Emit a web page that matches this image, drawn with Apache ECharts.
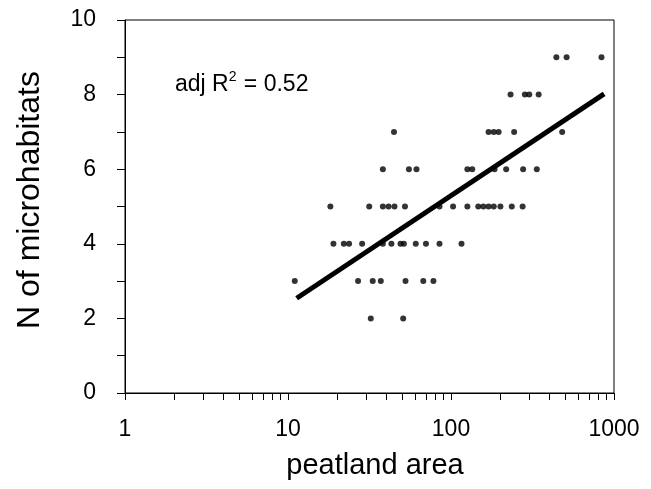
<!DOCTYPE html>
<html>
<head>
<meta charset="utf-8">
<script src="https://cdn.jsdelivr.net/npm/echarts@6/dist/echarts.min.js"></script>
<style>
html,body{margin:0;padding:0;background:#fff;}
#chart{width:651px;height:489px;}
</style>
</head>
<body>
<div id="chart"></div>
<script>
// peatland area (x) for each point, grouped by N of microhabitats (y)
var area9 = [443, 512, 838];
var area8 = [232, 284, 302, 345];
var area7 = [44.7, 170, 183, 196, 244, 481];
var area6 = [38.2, 55.2, 61.4, 126, 135, 185, 218, 277, 336];
var area5 = [18.2, 31.5, 38.2, 41.4, 45.0, 52.2, 85, 103, 126, 147, 158, 170, 183, 201, 236, 275];
var area4 = [19.0, 22.0, 23.7, 28.5, 38.2, 43.1, 49.0, 51.4, 60.8, 70.2, 85, 116];
var area3 = [11.0, 26.9, 33.1, 37.1, 52.6, 67.6, 78];
var area2 = [32.2, 50.9];
var levels = [9, 8, 7, 6, 5, 4, 3, 2];
var groups = [area9, area8, area7, area6, area5, area4, area3, area2];

// regression line endpoints
var fitX = [11.3, 870];
var fitY = [2.54, 8.02];

// ticks and labels
var xTickValues = [1,2,3,4,5,6,7,8,9,10,20,30,40,50,60,70,80,90,100,200,300,400,500,600,700,800,900,1000];
var xLabelValues = [1, 10, 100, 1000];
var yTickValues = [0,1,2,3,4,5,6,7,8,9,10];
var yLabelValues = [0, 2, 4, 6, 8, 10];

var points = [];
groups.forEach(function (g, i) {
  g.forEach(function (x) { points.push([x, levels[i]]); });
});

var font = 'Liberation Sans, Arial, Helvetica, sans-serif';
var chart = echarts.init(document.getElementById('chart'), null, {renderer: 'canvas'});
chart.setOption({
  animation: false,
  backgroundColor: '#fff',
  grid: {left: 125, right: 37, top: 20, bottom: 96, show: true, borderColor: '#000', borderWidth: 1, backgroundColor: 'transparent'},
  xAxis: {
    type: 'log', logBase: 10, min: 1, max: 1000,
    axisLine: {show: true, lineStyle: {color: '#000', width: 1}},
    axisTick: {show: true, inside: false, length: 7, lineStyle: {color: '#000'}, customValues: xTickValues},
    axisLabel: {show: true, color: '#000', fontSize: 23, fontFamily: font, margin: 25, customValues: xLabelValues,
      formatter: function (v) { return String(Math.round(v)); }},
    splitLine: {show: false}, minorTick: {show: false}
  },
  yAxis: {
    type: 'value', min: 0, max: 10, interval: 1,
    axisLine: {show: true, lineStyle: {color: '#000', width: 1}},
    axisTick: {show: true, inside: false, length: 8, lineStyle: {color: '#000'}, customValues: yTickValues},
    axisLabel: {show: true, color: '#000', fontSize: 23, fontFamily: font, margin: 29, customValues: yLabelValues},
    splitLine: {show: false}
  },
  series: [
    {
      type: 'scatter', data: points, symbol: 'circle', symbolSize: 6,
      itemStyle: {color: '#000'}, z: 3
    },
    {
      type: 'line', data: [[fitX[0], fitY[0]], [fitX[1], fitY[1]]],
      showSymbol: false, symbol: 'none', lineStyle: {color: '#000', width: 5}, z: 2
    }
  ],
  graphic: [
    {type: 'text', x: 375, y: 466, style: {text: 'peatland area', font: '29px ' + font, fill: '#000', align: 'center', verticalAlign: 'middle'}},
    {type: 'text', x: 30, y: 200, rotation: Math.PI / 2, style: {text: 'N of microhabitats', font: '32px ' + font, fill: '#000', align: 'center', verticalAlign: 'middle'}},
    {type: 'text', x: 175, y: 83, style: {
      text: '{t|adj R}{s|2}{t| = 0.52}', verticalAlign: 'middle', fill: '#000',
      rich: {
        t: {fontSize: 23, fontFamily: font, fill: '#000', verticalAlign: 'bottom', lineHeight: 26},
        s: {fontSize: 14, fontFamily: font, fill: '#000', verticalAlign: 'top', lineHeight: 26, padding: [0, 1, 8, 0]}
      }
    }}
  ]
});
</script>
</body>
</html>
